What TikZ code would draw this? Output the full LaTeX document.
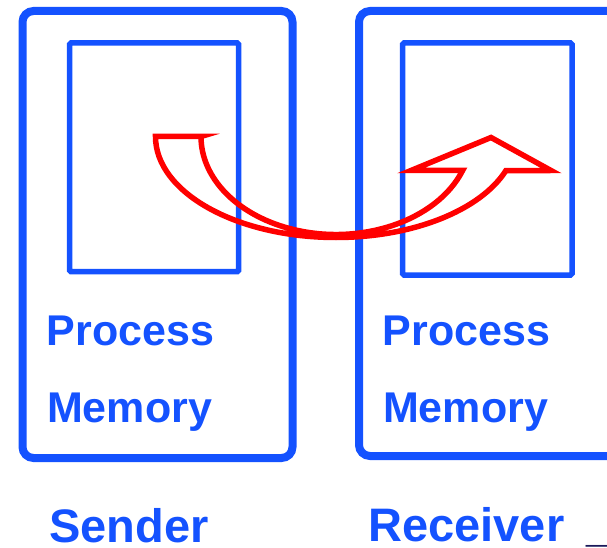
\documentclass[tikz,border=0pt]{standalone}
\usepackage{fontspec}
\setmainfont{Liberation Sans}
\definecolor{boxblue}{RGB}{20,82,255}
\definecolor{arrowred}{RGB}{255,0,0}
\definecolor{navy}{RGB}{25,25,90}
\tikzset{
  outerbox/.style={draw=boxblue, line width=8pt, rounded corners=11pt},
  innerbox/.style={draw=boxblue, line width=5.5pt, rounded corners=1.5pt},
  label/.style={text=boxblue, inner sep=0pt, anchor=base west, font=\bfseries\fontsize{43}{50}\selectfont},
  title/.style={text=boxblue, inner sep=0pt, anchor=base west, font=\bfseries\fontsize{47}{54}\selectfont},
  bigarrow/.style={draw=arrowred, line width=5.5pt, line join=miter, miter limit=10}
}
\begin{document}
\begin{tikzpicture}[x=1pt,y=1pt]
\useasboundingbox (0,0) rectangle (607,547);
\clip (0,0) rectangle (607,547);
% sender
\draw[outerbox] (22.5,536) rectangle (292.5,89);
\draw[innerbox] (69.5,504) rectangle (238.7,275.3);
\node[label] (sproc) at (46.7,202) {Process};
\node[label] (smem) at (46.9,124.5) {Memory};
\node[title] (sender) at (49,5) {Sender};
% receiver
\draw[outerbox] (359,536) rectangle (700,91);
\draw[innerbox] (402.5,504) rectangle (572,272);
\node[label] (rproc) at (382.7,202) {Process};
\node[label] (rmem) at (382.9,124.5) {Memory};
\node[title] (receiver) at (368.2,5.3) {Receiver};
\node[title, text=navy] (under) at (586,5.5) {\_};
% curved arrow
\draw[bigarrow] (201,410.5) -- (155.5,410.5)
  arc[start angle=180, end angle=340.3, x radius=180.5pt, y radius=101pt]
  -- (551,376.5) -- (491,409.5) -- (411,376.5) -- (462.6,376.5)
  arc[start angle=339.7, end angle=180, x radius=135pt, y radius=98pt]
  -- cycle;
\end{tikzpicture}
\end{document}
